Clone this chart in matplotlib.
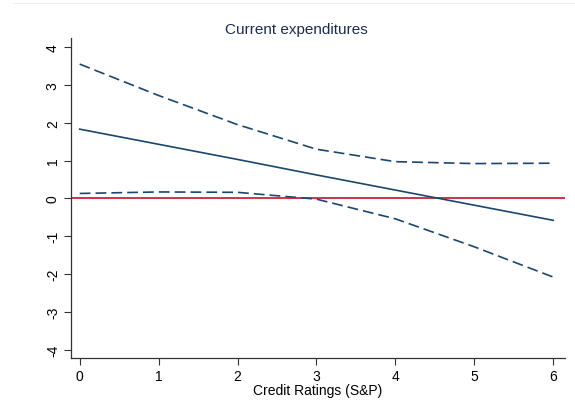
import numpy as np
from matplotlib import pyplot as plt

plt.rcParams["font.family"] = ["Liberation Sans", "DejaVu Sans"]

# values
ratings = [0, 1, 2, 3, 4, 5, 6]
estimate = [1.83, 1.43, 1.03, 0.62, 0.22, -0.18, -0.58]
upper_ci = [3.55, 2.72, 1.95, 1.30, 0.97, 0.92, 0.93]
lower_ci = [0.13, 0.17, 0.16, -0.02, -0.54, -1.28, -2.08]
yticks = [-4, -3, -2, -1, 0, 1, 2, 3, 4]
xticks = [0, 1, 2, 3, 4, 5, 6]

navy = "#1a476f"
red = "#c8102e"

fig = plt.figure(figsize=(5.75, 4.14), dpi=100)
ax = fig.add_axes([71 / 575, 1 - 359 / 414, (565 - 71) / 575, (359 - 39) / 414])

ax.axhline(0, color=red, linewidth=1.2, zorder=1)
ax.plot(ratings, estimate, color=navy, linewidth=1.2, zorder=2)
ax.plot(ratings, upper_ci, color=navy, linewidth=1.2, linestyle=(0, (6.5, 3)), zorder=2)
ax.plot(ratings, lower_ci, color=navy, linewidth=1.2, linestyle=(0, (6.5, 3)), zorder=2)

ax.set_xlim(-0.11, 6.15)
ax.set_ylim(-4.22, 4.24)
ax.set_xticks(xticks)
ax.set_yticks(yticks)
ax.set_yticklabels([str(t) for t in yticks], rotation=90, va="center")
ax.tick_params(axis="both", labelsize=10, length=5, width=0.8, color="#333333", pad=3)

for side in ["top", "right"]:
    ax.spines[side].set_visible(False)
for side in ["left", "bottom"]:
    ax.spines[side].set_color("#333333")
    ax.spines[side].set_linewidth(0.9)

ax.set_xlabel("Credit Ratings (S&P)", fontsize=10, labelpad=0)
fig.text(296 / 575, 1 - 30 / 414, "Current expenditures",
         ha="center", va="center", fontsize=11, color="#1e2b4f")

# faint outer frame line at the top
fig.add_artist(plt.Line2D([13 / 575, 1], [1 - 4 / 414, 1 - 4 / 414],
                          color="#eeeeee", linewidth=0.8))

fig.savefig("out.png", dpi=100)
